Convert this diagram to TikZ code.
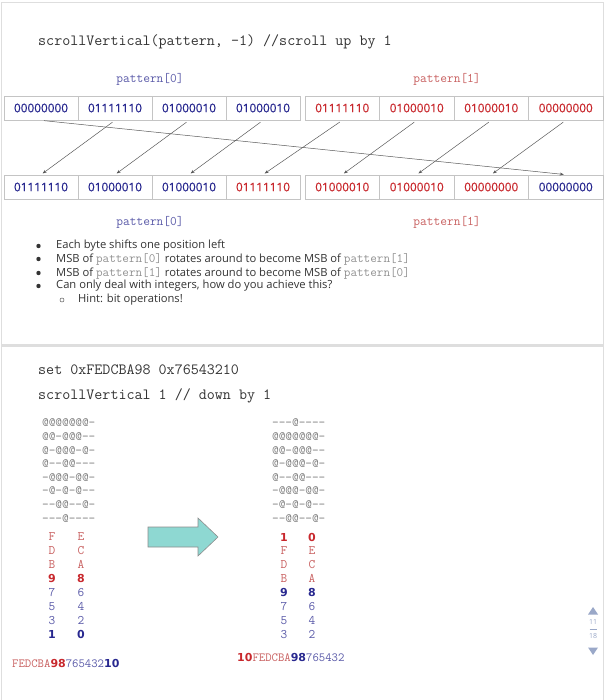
\documentclass[tikz,border=0pt]{standalone}
\usepackage{fontspec}
\setmainfont{Open Sans}
\newcommand\cour{\ttfamily}
\newfontfamily\bytef[FakeBold=0.5]{Open Sans}
\newfontfamily\bsans{DejaVu Sans}
\usetikzlibrary{arrows.meta}
\definecolor{navy}{HTML}{28288F}
\definecolor{brick}{HTML}{C8282D}
\definecolor{lblue}{HTML}{5A5AA8}
\definecolor{lred}{HTML}{C86060}
\definecolor{gridgray}{HTML}{7A7A7A}
\definecolor{cellline}{HTML}{C4C4C4}
\definecolor{teal}{HTML}{8ED8D2}
\definecolor{sbar}{HTML}{9AA8C8}
\definecolor{codegray}{HTML}{909090}
\definecolor{panel}{HTML}{DEDEDE}
\definecolor{ink}{HTML}{333333}
\newcommand\pc[1]{{\cour\fontsize{12.8}{12}\selectfont\color{codegray}#1}}
\newcommand\bd[1]{{\bsans\bfseries #1}}
\tikzset{
  cell/.style={draw=cellline, line width=0.7pt, minimum height=24pt, inner sep=0pt,
    font=\bytef\fontsize{11.8}{12}\selectfont},
  cl/.style={cell, minimum width=74pt},
  cr/.style={cell, minimum width=74.5pt},
  conn/.style={draw=black!65, line width=0.5pt, -{Stealth[length=4pt,width=3pt]}, shorten <=3pt, shorten >=2pt},
  lab/.style={font=\cour\fontsize{13.1}{13}\selectfont},
  code/.style={font=\cour\fontsize{15.6}{15}\selectfont, text=ink, anchor=west, inner sep=0pt},
  btxt/.style={font=\fontsize{11.2}{12}\selectfont, text=ink, anchor=west, inner sep=0pt},
  grid/.style={font=\cour\fontsize{12.9}{13}\selectfont, text=gridgray, anchor=west, inner sep=0pt},
  dig/.style={font=\cour\fontsize{13}{13}\selectfont, inner sep=0pt},
  bdig/.style={font=\bsans\bfseries\fontsize{11}{12}\selectfont, inner sep=0pt},
}
\begin{document}
\begin{tikzpicture}[x=1pt,y=-1pt]
\useasboundingbox (0,0) rectangle (605,700);
% panels
\draw[panel, line width=0.8pt] (1,2) rectangle (603.5,344);
\draw[panel, line width=0.8pt] (1,347) -- (1,700);
\draw[panel, line width=0.8pt] (603.5,347) -- (603.5,700);
\fill[panel] (1,344) rectangle (603.5,347);
% heading
\node[code] (h1) at (38,42) {scrollVertical(pattern, -1) //scroll up by 1};
\node[lab, text=lblue] (p0t) at (150,79) {pattern[0]};
\node[lab, text=lred] (p1t) at (447,79) {pattern[1]};
% top row
\node[cl, text=navy] (t0) at (41,108) {00000000};
\node[cl, text=navy] (t1) at (115,108) {01111110};
\node[cl, text=navy] (t2) at (189,108) {01000010};
\node[cl, text=navy] (t3) at (263,108) {01000010};
\node[cr, text=brick] (t4) at (342.25,108) {01111110};
\node[cr, text=brick] (t5) at (416.75,108) {01000010};
\node[cr, text=brick] (t6) at (491.25,108) {01000010};
\node[cr, text=brick] (t7) at (565.75,108) {00000000};
% bottom row
\node[cl, text=navy] (b0) at (41,187) {01111110};
\node[cl, text=navy] (b1) at (115,187) {01000010};
\node[cl, text=navy] (b2) at (189,187) {01000010};
\node[cl, text=brick] (b3) at (263,187) {01111110};
\node[cr, text=brick] (b4) at (342.25,187) {01000010};
\node[cr, text=brick] (b5) at (416.75,187) {01000010};
\node[cr, text=brick] (b6) at (491.25,187) {00000000};
\node[cr, text=navy] (b7) at (565.75,187) {00000000};
% connectors
\draw[conn] (t1.south) -- (b0.north);
\draw[conn] (t2.south) -- (b1.north);
\draw[conn] (t3.south) -- (b2.north);
\draw[conn] (t4.south) -- (b3.north);
\draw[conn] (t5.south) -- (b4.north);
\draw[conn] (t6.south) -- (b5.north);
\draw[conn] (t7.south) -- (b6.north);
\draw[conn] (t0.south) -- (b7.north);
\node[lab, text=lblue] (p0b) at (150,222) {pattern[0]};
\node[lab, text=lred] (p1b) at (447,222) {pattern[1]};
% bullets
\foreach \yy in {246,259,273,286} \fill[ink] (38.5,\yy) circle (2.2pt);
\draw[ink!80, line width=0.5pt] (62,300) circle (2pt);
\node[btxt] (l1) at (56,246) {Each byte shifts one position left};
\node[btxt] (l2) at (56,259) {MSB of \pc{pattern[0]} rotates around to become MSB of \pc{pattern[1]}};
\node[btxt] (l3) at (56,273) {MSB of \pc{pattern[1]} rotates around to become MSB of \pc{pattern[0]}};
\node[btxt] (l4) at (56,286) {Can only deal with integers, how do you achieve this?};
\node[btxt] (l5) at (78,300) {Hint: bit operations!};
% lower section
\node[code] (s1) at (38,370) {set 0xFEDCBA98 0x76543210};
\node[code] (s2) at (38,396) {scrollVertical 1 // down by 1};
\foreach \txt [count=\k from 0] in {@@@@@@@-,@@-@@@--,@-@@@-@-,@--@@---,-@@@-@@-,-@-@-@--,--@@--@-,---@----}
  \node[grid] (gl\k) at (42,423+13.6*\k) {\txt};
\foreach \txt [count=\k from 0] in {---@----,@@@@@@@-,@@-@@@--,@-@@@-@-,@--@@---,-@@@-@@-,-@-@-@--,--@@--@-}
  \node[grid] (gr\k) at (272,423+13.6*\k) {\txt};
% left letters
\foreach \a/\b [count=\k from 0] in {F/E,D/C,B/A}{
  \node[dig, text=lred] (la\k) at (52,537+13.9*\k) {\a};
  \node[dig, text=lred] (lb\k) at (81,537+13.9*\k) {\b};}
\node[bdig, text=brick] (la3) at (52,578.7) {9};
\node[bdig, text=brick] (lb3) at (81,578.7) {8};
\foreach \a/\b [count=\k from 4] in {7/6,5/4,3/2}{
  \node[dig, text=lblue] (la\k) at (52,537+13.9*\k) {\a};
  \node[dig, text=lblue] (lb\k) at (81,537+13.9*\k) {\b};}
\node[bdig, text=navy] (la7) at (52,634.3) {1};
\node[bdig, text=navy] (lb7) at (81,634.3) {0};
% right letters
\node[bdig, text=brick] (ra0) at (284,537) {1};
\node[bdig, text=brick] (rb0) at (312,537) {0};
\foreach \a/\b [count=\k from 1] in {F/E,D/C,B/A}{
  \node[dig, text=lred] (ra\k) at (284,537+13.9*\k) {\a};
  \node[dig, text=lred] (rb\k) at (312,537+13.9*\k) {\b};}
\node[bdig, text=navy] (ra4) at (284,592.6) {9};
\node[bdig, text=navy] (rb4) at (312,592.6) {8};
\foreach \a/\b [count=\k from 5] in {7/6,5/4,3/2}{
  \node[dig, text=lblue] (ra\k) at (284,537+13.9*\k) {\a};
  \node[dig, text=lblue] (rb\k) at (312,537+13.9*\k) {\b};}
% bottom strings
\node[anchor=west, inner sep=0pt, font=\cour\fontsize{12.4}{12}\selectfont] (ls) at (12,663)
  {\textcolor{lred}{FEDCBA}\textcolor{brick}{\bd{\fontsize{11}{12}\selectfont 98}}\textcolor{lblue}{765432}\textcolor{navy}{\bd{\fontsize{11}{12}\selectfont 10}}};
\node[anchor=west, inner sep=0pt, font=\cour\fontsize{12.4}{12}\selectfont] (rs) at (237,657)
  {\textcolor{brick}{\bd{\fontsize{11}{12}\selectfont 10}}\textcolor{lred}{FEDCBA}\textcolor{navy}{\bd{\fontsize{11}{12}\selectfont 98}}\textcolor{lblue}{765432}};
% block arrow
\draw[fill=teal, draw=black!45, line width=0.6pt] (148,527) -- (198,527) -- (198,518) -- (218,537) -- (198,556) -- (198,547) -- (148,547) -- cycle;
% scrollbar
\fill[sbar] (588,614.5) -- (598,614.5) -- (593,607) -- cycle;
\node[font=\fontsize{7}{7}\selectfont, text=sbar, inner sep=0pt] (n11) at (593,622) {11};
\draw[sbar, line width=0.5pt] (589.5,629) -- (596.5,629);
\node[font=\fontsize{7}{7}\selectfont, text=sbar, inner sep=0pt] (n18) at (593,636) {18};
\fill[sbar] (588,647.5) -- (598,647.5) -- (593,655) -- cycle;
\end{tikzpicture}
\end{document}
